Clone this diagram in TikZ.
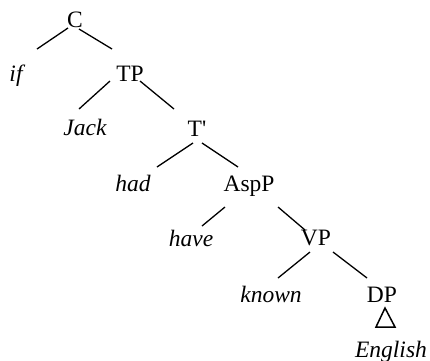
\documentclass[tikz,border=0pt]{standalone}
\usepackage{fontspec}
\setmainfont{Liberation Serif}
\newfontfamily\plainserif{Liberation Serif}
\usetikzlibrary{calc}
\tikzset{
  lbl/.style={anchor=base, inner sep=0pt, font=\fontsize{23.5}{28}\selectfont},
  word/.style={lbl, font=\fontsize{23.5}{28}\selectfont\itshape},
  edge/.style={line width=1.3pt},
}
\begin{document}
\begin{tikzpicture}[x=1pt, y=-1pt]
\useasboundingbox (0,0) rectangle (430,360);
\node[lbl]  (C)    at (75,27)   {C};
\node[word] (if)   at (16,81)   {if};
\node[lbl]  (TP)   at (130,81)  {TP};
\node[word] (Jack) at (85,135)  {Jack};
\node[lbl]  (Tb)   at (197,136) {\plainserif T'};
\node[word] (had)  at (133,191) {had};
\node[lbl]  (AspP) at (249,191) {AspP};
\node[word] (have) at (191,246) {have};
\node[lbl]  (VP)   at (316,245) {VP};
\node[word] (known) at (271,302) {known};
\node[lbl]  (DP)   at (382,302) {DP};
\node[word] (Eng)  at (391,357) {English};
\draw[edge] ($(C.base)+(-7,1)$) -- ($(if.base)+(21,-32)$);
\draw[edge] ($(C.base)+(4,2)$) -- ($(TP.base)+(-18,-32)$);
\draw[edge] ($(TP.base)+(-20,0)$) -- ($(Jack.base)+(-6,-26)$);
\draw[edge] ($(TP.base)+(10,0)$) -- ($(Tb.base)+(-23,-27)$);
\draw[edge] ($(Tb.base)+(-4,7)$) -- ($(had.base)+(24,-24)$);
\draw[edge] ($(Tb.base)+(5,7)$) -- ($(AspP.base)+(-11,-24)$);
\draw[edge] ($(AspP.base)+(-24,16)$) -- ($(have.base)+(11,-20)$);
\draw[edge] ($(AspP.base)+(29,16)$) -- ($(VP.base)+(-11,-15)$);
\draw[edge] ($(VP.base)+(-6,7)$) -- ($(known.base)+(7,-24)$);
\draw[edge] ($(VP.base)+(17,7)$) -- ($(DP.base)+(-15,-24)$);
\draw[edge, line width=1.5pt, line join=miter] ($(DP.base)+(3,6)$) -- ($(DP.base)+(-6,25)$) -- ($(DP.base)+(13,25)$) -- cycle;
\end{tikzpicture}
\end{document}
